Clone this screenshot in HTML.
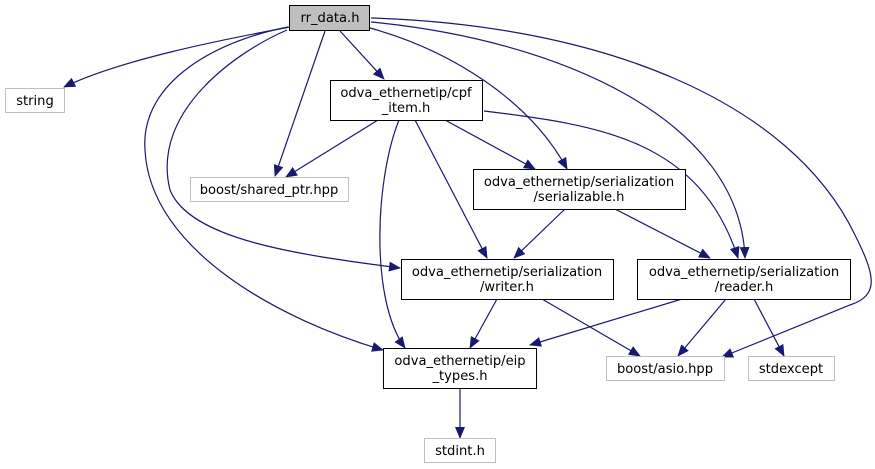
<!DOCTYPE html>
<html><head><meta charset="utf-8"><style>
html,body{margin:0;padding:0;background:#fff;}
svg{display:block;}
text{font-family:"DejaVu Sans","Liberation Sans",sans-serif;font-size:13.1px;fill:#000;}
</style></head><body>
<svg width="875" height="469" viewBox="0 0 875 469" xmlns="http://www.w3.org/2000/svg">
<defs>
<marker id="a" markerWidth="12" markerHeight="10" refX="11" refY="5" orient="auto" markerUnits="userSpaceOnUse">
<path d="M0,0 L12,5 L0,10 z" fill="#191970"/>
</marker>
</defs>
<g fill="none" stroke="#191970" stroke-width="1.2" marker-end="url(#a)">
<path d="M290,27 C220,40 120,60 64,87"/>
<path d="M325,31 L275,176"/>
<path d="M340,31 L384,79"/>
<path d="M370,28 C450,50 530,100 567,169"/>
<path d="M371,22 C560,40 740,120 745,258"/>
<path d="M371,18 C600,25 790,100 855,235 C875,275 880,295 850,305 L722,357"/>
<path d="M287,30 C240,50 150,110 170,190 C190,240 300,255 400,268"/>
<path d="M288,27 C220,40 140,80 145,150 C150,250 280,320 383,350"/>
<path d="M378,120 L286,177"/>
<path d="M445,120 L535,169"/>
<path d="M484,111 C600,125 700,140 738,258"/>
<path d="M415,120 L487,258"/>
<path d="M399,120 C375,180 370,300 405,348"/>
<path d="M565,209 L514,258"/>
<path d="M615,209 L710,258"/>
<path d="M497,299 L470,348"/>
<path d="M542,299 L640,356"/>
<path d="M682,299 L530,345"/>
<path d="M726,299 L678,356"/>
<path d="M754,299 L784,356"/>
<path d="M460,388 L460,438"/>
</g>
<g stroke-width="1">
<rect x="289.5" y="5.5" width="80" height="25" fill="#bfbfbf" stroke="#000"/>
<rect x="5.5" y="88.5" width="59" height="24" fill="#fff" stroke="#bfbfbf"/>
<rect x="330.5" y="80.5" width="152" height="40" fill="#fff" stroke="#000"/>
<rect x="190.5" y="177.5" width="158" height="24" fill="#fff" stroke="#bfbfbf"/>
<rect x="473.5" y="169.5" width="212" height="40" fill="#fff" stroke="#000"/>
<rect x="401.5" y="259.5" width="212" height="40" fill="#fff" stroke="#000"/>
<rect x="637.5" y="259.5" width="213" height="40" fill="#fff" stroke="#000"/>
<rect x="383.5" y="348.5" width="153" height="40" fill="#fff" stroke="#000"/>
<rect x="606.5" y="356.5" width="118" height="24" fill="#fff" stroke="#bfbfbf"/>
<rect x="748.5" y="356.5" width="86" height="24" fill="#fff" stroke="#bfbfbf"/>
<rect x="424.5" y="438.5" width="71" height="24" fill="#fff" stroke="#bfbfbf"/>
</g>
<g text-anchor="middle">
<text x="330" y="22">rr_data.h</text>
<text x="35" y="105">string</text>
<text x="406" y="97">odva_ethernetip/cpf</text>
<text x="406" y="112">_item.h</text>
<text x="269" y="194">boost/shared_ptr.hpp</text>
<text x="579" y="186">odva_ethernetip/serialization</text>
<text x="579" y="201">/serializable.h</text>
<text x="507" y="276">odva_ethernetip/serialization</text>
<text x="507" y="291">/writer.h</text>
<text x="744" y="276">odva_ethernetip/serialization</text>
<text x="744" y="291">/reader.h</text>
<text x="460" y="365">odva_ethernetip/eip</text>
<text x="460" y="380">_types.h</text>
<text x="665" y="373">boost/asio.hpp</text>
<text x="791" y="373">stdexcept</text>
<text x="460" y="455">stdint.h</text>
</g>
</svg>
</body></html>
